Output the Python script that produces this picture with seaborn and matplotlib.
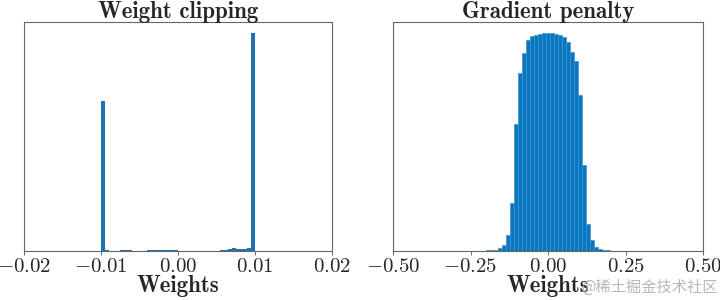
import numpy as np
import pandas as pd
import matplotlib
matplotlib.use("Agg")
import matplotlib.pyplot as plt
import seaborn as sns

# ---- data (relative counts) ----
clip_edges_lo = -0.01
clip_edges_hi = 0.01
clip_nbins = 40
clip_counts = [0.69, 0.005, 0.002, 0.002, 0.002, 0.004, 0.005, 0.003,
               0.002, 0.002, 0.002, 0.002, 0.003, 0.003, 0.003, 0.003,
               0.003, 0.003, 0.003, 0.004, 0.002, 0.001, 0.001, 0.001,
               0.001, 0.001, 0.001, 0.001, 0.001, 0.001, 0.002, 0.003,
               0.004, 0.008, 0.014, 0.008, 0.007, 0.008, 0.016, 1.0]

gp_bin_width = 0.0129
gp_bin_index = list(range(-19, 20))
gp_counts = [0.001, 0.001, 0.002, 0.002, 0.003, 0.004, 0.006, 0.015, 0.029, 0.075,
             0.222, 0.584, 0.817, 0.908, 0.966, 0.985, 0.992, 0.997, 0.998, 1.0,
             0.998, 0.995, 0.991, 0.979, 0.957, 0.913, 0.872, 0.717, 0.396, 0.122,
             0.049, 0.018, 0.008, 0.005, 0.003, 0.002, 0.002, 0.001, 0.001]

clip_ticks = [-0.02, -0.01, 0.00, 0.01, 0.02]
gp_ticks = [-0.50, -0.25, 0.00, 0.25, 0.50]

titles = ["Weight clipping", "Gradient penalty"]
xlabel = "Weights"
watermark = "@稀土掘金技术社区"

# ---- build tables ----
clip_width = (clip_edges_hi - clip_edges_lo) / clip_nbins
clip_centers = clip_edges_lo + clip_width * (np.arange(clip_nbins) + 0.5)
clip_df = pd.DataFrame({"w": clip_centers, "c": clip_counts})
gp_centers = np.array(gp_bin_index) * gp_bin_width
gp_df = pd.DataFrame({"w": gp_centers, "c": gp_counts})

sns.set_style("white")
plt.rcParams["font.family"] = ["cmr10", "DejaVu Serif"]
plt.rcParams["axes.formatter.use_mathtext"] = True
plt.rcParams["mathtext.fontset"] = "cm"
plt.rcParams["axes.unicode_minus"] = True

fig = plt.figure(figsize=(7.2, 3.0), dpi=100)
ax1 = fig.add_axes([24 / 720, 1 - 251 / 300, 308 / 720, 229 / 300])
ax2 = fig.add_axes([393 / 720, 1 - 251 / 300, 310 / 720, 229 / 300])

sns.histplot(data=clip_df, x="w", weights="c", binwidth=clip_width,
             binrange=(clip_edges_lo, clip_edges_hi), ax=ax1,
             color="#1f73b0", alpha=1, edgecolor="none", linewidth=0)
sns.histplot(data=gp_df, x="w", weights="c", binwidth=gp_bin_width,
             binrange=(gp_centers[0] - gp_bin_width / 2, gp_centers[-1] + gp_bin_width / 2),
             ax=ax2, color="#0977c0", alpha=1, edgecolor="#3d92d2", linewidth=0.5)

for ax, ticks, title in [(ax1, clip_ticks, titles[0]), (ax2, gp_ticks, titles[1])]:
    ax.set_xlim(ticks[0], ticks[-1])
    ax.set_ylim(0, 1.05)
    ax.set_xticks(ticks)
    ax.set_yticks([])
    ax.set_ylabel("")
    ax.set_xlabel(xlabel, fontfamily="cmb10", fontsize=16.5, labelpad=-1)
    ax.set_title(title, fontfamily="cmb10", fontsize=16.5, pad=3)
    ax.tick_params(axis="x", labelsize=15, length=3, width=0.6, color="#555555",
                   direction="out", pad=2, bottom=True)
    for s in ax.spines.values():
        s.set_color("#666666")
        s.set_linewidth(0.8)

fig.text(718 / 720, 1 - 287 / 300, watermark, ha="right", va="center",
         fontsize=11, color="#b8b8b8", family=["Noto Sans CJK SC", "DejaVu Sans"])

fig.savefig("out.png", dpi=100)
